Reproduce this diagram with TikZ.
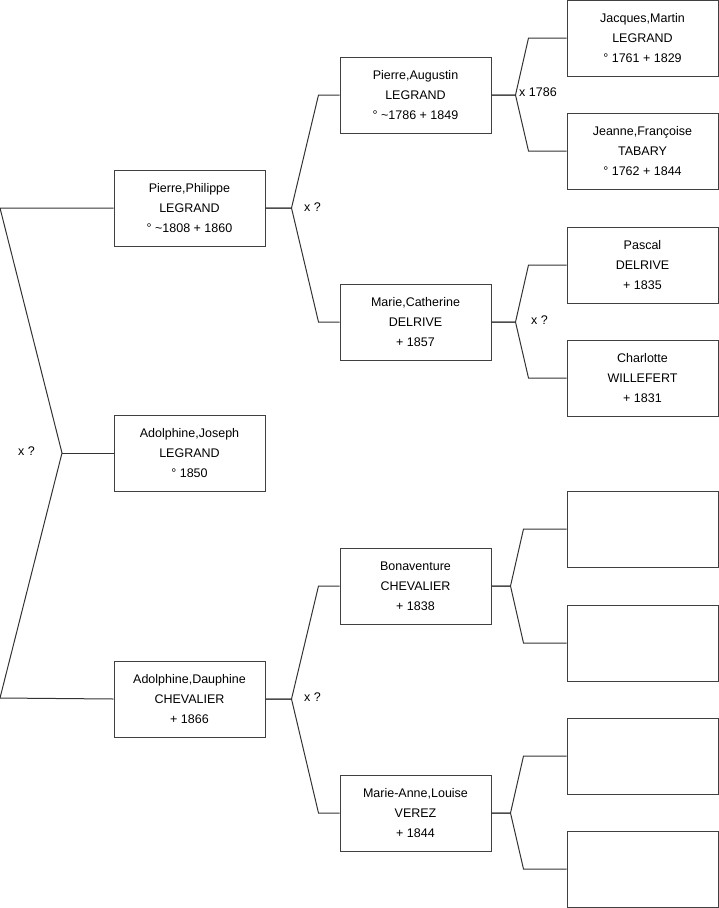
\documentclass[tikz,border=0pt]{standalone}
\usepackage{fontspec}
\setmainfont{Liberation Sans}
\usepackage{xcolor}

\begin{document}
\begin{tikzpicture}[x=1pt, y=-1pt,
    person/.style={draw=black!75, line width=1pt, fill=white, minimum width=151pt,
      minimum height=76pt, inner sep=0pt, align=center,
      font=\fontsize{12.5}{20}\selectfont},
    link/.style={draw=black!80, line width=1pt},
    union/.style={anchor=west, inner sep=0pt, font=\fontsize{12.5}{14}\selectfont}]
  \useasboundingbox (0,0) rectangle (719,908);

  % first generation
  \node[person] (ppl) at (189.5,208) {Pierre,Philippe\\LEGRAND\\° \textasciitilde1808 + 1860};
  \node[person] (ajl) at (189.5,453) {Adolphine,Joseph\\LEGRAND\\° 1850};
  \node[person] (adc) at (189.5,699) {Adolphine,Dauphine\\CHEVALIER\\+ 1866};

  % parents
  \node[person] (pal) at (415.5,95) {Pierre,Augustin\\LEGRAND\\° \textasciitilde1786 + 1849};
  \node[person] (mcd) at (415.5,322) {Marie,Catherine\\DELRIVE\\+ 1857};
  \node[person] (bch) at (415.5,586) {Bonaventure\\CHEVALIER\\+ 1838};
  \node[person] (mav) at (415.5,813) {Marie-Anne,Louise\\VEREZ\\+ 1844};

  % grandparents
  \node[person] (jml) at (642.5,38) {Jacques,Martin\\LEGRAND\\° 1761 + 1829};
  \node[person] (jft) at (642.5,151) {Jeanne,Françoise\\TABARY\\° 1762 + 1844};
  \node[person] (pde) at (642.5,265) {Pascal\\DELRIVE\\+ 1835};
  \node[person] (cwi) at (642.5,378) {Charlotte\\WILLEFERT\\+ 1831};
  \node[person] (bx1) at (642.5,529) {};
  \node[person] (bx2) at (642.5,643) {};
  \node[person] (bx3) at (642.5,756) {};
  \node[person] (bx4) at (642.5,869) {};

  % left bracket (siblings)
  \coordinate (sl1) at (0,208);
  \coordinate (sl2) at (0,698);
  \coordinate (sj) at (62,453);
  \draw[link] (ppl.west) -- (sl1) -- (sj) -- (sl2) -- (adc.west);
  \draw[link] (sj) -- (ajl.west);
  \node[union] (u0) at (18,451) {x ?};

  % brackets to parents
  \foreach \parent/\child/\jx/\ex in {ppl/pal/26/21, ppl/mcd/26/21, adc/bch/26/21, adc/mav/26/21,
      pal/jml/24/38, pal/jft/24/38, mcd/pde/24/38, mcd/cwi/24/38,
      bch/bx1/19/43, bch/bx2/19/43, mav/bx3/19/43, mav/bx4/19/43}
    \draw[link] (\parent.east) -- ([xshift=\jx pt]\parent.east) -- ([xshift=-\ex pt]\child.west) -- (\child.west);

  \node[union] (u1) at (304,207) {x ?};
  \node[union] (u2) at (304,697) {x ?};
  \node[union] (u3) at (519,92) {x 1786};
  \node[union] (u4) at (531,320) {x ?};
\end{tikzpicture}
\end{document}
